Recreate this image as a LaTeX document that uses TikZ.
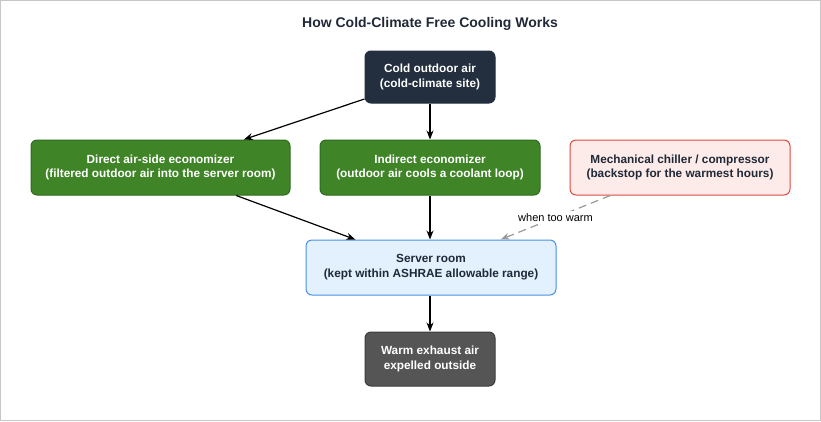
\documentclass[tikz,border=0pt]{standalone}
\usepackage{fontspec}
\setmainfont{Liberation Sans}
\usetikzlibrary{arrows.meta, positioning}
\definecolor{Cool_Navy}{HTML}{232F3E}
\definecolor{Eco_Green}{HTML}{3F8527}
\definecolor{Eco_Edge}{HTML}{2E6B1E}
\definecolor{Chill_Fill}{HTML}{FDEBE9}
\definecolor{Chill_Edge}{HTML}{E0483E}
\definecolor{Room_Fill}{HTML}{E3F0FD}
\definecolor{Room_Edge}{HTML}{4A90E2}
\definecolor{Exhaust_Gray}{HTML}{555555}
\definecolor{Title_Ink}{HTML}{1F2937}

\begin{document}
\begin{tikzpicture}[
    x=1pt, y=-1pt,
    >={Stealth[length=9pt, width=7pt]},
    box/.style={
        rounded corners=6pt,
        line width=1pt,
        align=center,
        inner sep=0pt,
        minimum height=55pt,
        font=\fontsize{11.8}{14.8}\selectfont\bfseries
    },
    source/.style={box, fill=Cool_Navy, draw=Cool_Navy, text=white, minimum width=130pt, minimum height=52pt},
    econ/.style={box, fill=Eco_Green, draw=Eco_Edge, text=white},
    chiller/.style={box, fill=Chill_Fill, draw=Chill_Edge, text=Title_Ink, minimum width=220pt},
    room/.style={box, fill=Room_Fill, draw=Room_Edge, text=Title_Ink, minimum width=250pt},
    exhaust/.style={box, fill=Exhaust_Gray, draw=Exhaust_Gray!70!black, text=white, minimum width=130pt, minimum height=54pt},
    every edge/.style={draw=black, line width=1.2pt, ->},
    backup/.style={draw=black!40, line width=1.2pt, dash pattern=on 8pt off 5pt, ->},
    cond/.style={font=\fontsize{11}{13}\selectfont, fill=white, inner sep=2pt}
]

% frame
\draw[draw=black!22, line width=1pt] (0.5,0.5) rectangle (820.5,420.5);
\useasboundingbox (0,0) rectangle (821,421);

\node[font=\fontsize{14}{16}\selectfont\bfseries, text=Title_Ink] (title) at (430,24) {How Cold-Climate Free Cooling Works};

\node[source] (cold) at (430,77) {Cold outdoor air\\(cold-climate site)};
\node[econ, minimum width=259pt] (direct) at (160.5,167.5) {Direct air-side economizer\\(filtered outdoor air into the server room)};
\node[econ, minimum width=220pt] (indirect) at (430,167.5) {Indirect economizer\\(outdoor air cools a coolant loop)};
\node[chiller] (chiller) at (680,167.5) {Mechanical chiller / compressor\\(backstop for the warmest hours)};
\node[room] (server) at (431,267.5) {Server room\\(kept within ASHRAE allowable range)};
\node[exhaust] (warm) at (430,359) {Warm exhaust air\\expelled outside};

% cooling paths
\path (cold) edge (direct);
\path (cold) edge (indirect);
\path (direct) edge (server);
\path (indirect.south) edge (indirect.south |- server.north);

% backstop
\draw[backup] (chiller) -- node[cond] {when too warm} (server);

% exhaust
\path (server.south -| warm.north) edge (warm);

\end{tikzpicture}
\end{document}
